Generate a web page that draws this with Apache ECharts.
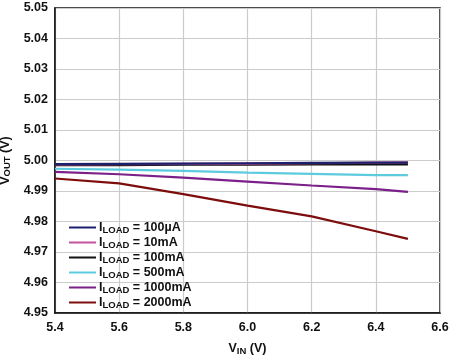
<!DOCTYPE html>
<html><head><meta charset="utf-8">
<script src="https://cdn.jsdelivr.net/npm/echarts@6/dist/echarts.min.js"></script>
<style>html,body{margin:0;padding:0;background:#fff}#c{width:450px;height:360px}</style>
</head><body><div id="c"></div>
<script>
const vin = [5.4, 5.6, 5.8, 6.0, 6.2, 6.4, 6.5];
const i100uA  = [4.9988, 4.9989, 4.9990, 4.9991, 4.9992, 4.9993, 4.9993];
const i10mA   = [4.9987, 4.9988, 4.9989, 4.9990, 4.9991, 4.9993, 4.9994];
const i100mA  = [4.9985, 4.9985, 4.9986, 4.9986, 4.9987, 4.9987, 4.9987];
const i500mA  = [4.9973, 4.9970, 4.9966, 4.9960, 4.9956, 4.9952, 4.9952];
const i1000mA = [4.9963, 4.9955, 4.9944, 4.9931, 4.9918, 4.9906, 4.9897];
const i2000mA = [4.9941, 4.9925, 4.9890, 4.9852, 4.9817, 4.9768, 4.9743];
const seriesNames = ['100\u00b5A', '10mA', '100mA', '500mA', '1000mA', '2000mA'];
const seriesData = [i100uA, i10mA, i100mA, i500mA, i1000mA, i2000mA];
const colors = ['#1c1f6b', '#c4529e', '#111111', '#5ccbe0', '#7a2088', '#7d0d0d'];
const xTicks = {min: 5.4, max: 6.6, step: 0.2};
const yTicks = {min: 4.95, max: 5.05, step: 0.01};

const font = 'Liberation Sans, Arial, Helvetica, sans-serif';
const richM = {fontSize: 12.5, fontWeight: 'bold', fontFamily: font, color: '#111', lineHeight: 12};
const richS = {fontSize: 9.5, fontWeight: 'bold', fontFamily: font, color: '#111', lineHeight: 10, padding: [5, 0, 0, 0]};
const chart = echarts.init(document.getElementById('c'), null, {renderer: 'canvas'});
chart.setOption({
  animation: false,
  backgroundColor: '#fff',
  grid: {left: 55, right: 10, top: 8, bottom: 47, containLabel: false, outerBoundsMode: 'none',
    show: true, borderColor: '#111', borderWidth: 1.5, backgroundColor: 'transparent'},
  legend: {
    orient: 'vertical', left: 64, top: 215, itemGap: 0, itemWidth: 27, itemHeight: 12,
    icon: 'path://M0,5 L27,5 L27,7 L0,7 Z',
    data: seriesNames.map((n, i) => ({name: 'I_' + n, itemStyle: {color: colors[i]}})),
    formatter: n => '{m|I}{s|LOAD}{m| = ' + n.slice(2) + '}',
    textStyle: {fontFamily: font, padding: [0, 0, 0, -2], rich: {m: richM, s: richS}}
  },
  xAxis: {
    type: 'value', min: xTicks.min, max: xTicks.max, interval: xTicks.step,
    name: '{m|V}{s|IN}{m| (V)}', nameLocation: 'middle', nameGap: 30,
    nameTextStyle: {rich: {m: richM, s: richS}},
    axisLine: {show: true, lineStyle: {color: '#111', width: 1.5}},
    axisTick: {show: false},
    axisLabel: {fontFamily: font, fontSize: 12.5, fontWeight: 'bold', color: '#111', margin: 8,
      formatter: v => v.toFixed(1)},
    splitLine: {show: true, lineStyle: {color: '#cbcbcb', width: 1.2}}
  },
  yAxis: {
    type: 'value', min: yTicks.min, max: yTicks.max, interval: yTicks.step,
    name: '{m|V}{s|OUT}{m| (V)}', nameLocation: 'middle', nameGap: 36, nameRotate: 90,
    nameTextStyle: {rich: {m: richM, s: richS}},
    axisLine: {show: true, lineStyle: {color: '#111', width: 1.5}},
    axisTick: {show: false},
    axisLabel: {fontFamily: font, fontSize: 12.5, fontWeight: 'bold', color: '#111', margin: 7,
      formatter: v => v.toFixed(2)},
    splitLine: {show: true, lineStyle: {color: '#cbcbcb', width: 1.2}}
  },
  series: seriesNames.map((n, i) => ({
    name: 'I_' + n, type: 'line', showSymbol: false, symbol: 'none',
    data: vin.map((x, k) => [x, seriesData[i][k]]),
    lineStyle: {color: colors[i], width: 2.2},
    itemStyle: {color: colors[i]},
    z: 10 - i
  }))
});
</script></body></html>
